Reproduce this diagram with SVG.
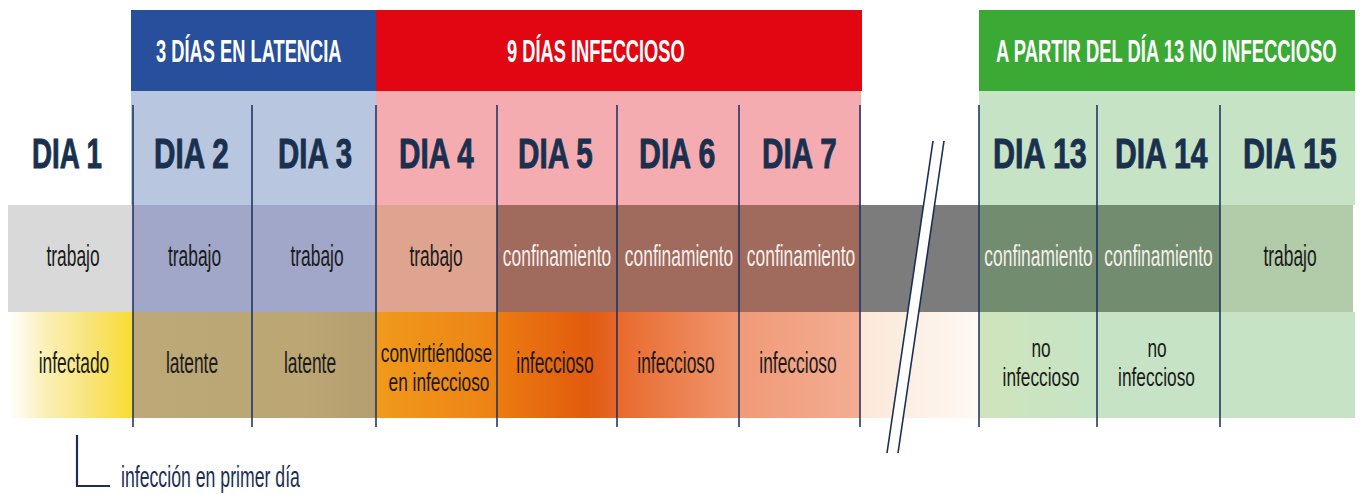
<svg xmlns="http://www.w3.org/2000/svg" width="1360" height="494" viewBox="0 0 1360 494">
  <defs>
    <style>
      .hdr { font-family: "Liberation Sans", Arial, sans-serif; font-weight: bold; font-size: 31px; fill: #ffffff; }
      .day { font-family: "Liberation Sans", Arial, sans-serif; font-weight: bold; font-size: 43px; fill: #19304f; stroke: #19304f; stroke-width: 0.9; }
      .lbl { font-family: "Liberation Sans", Arial, sans-serif; font-size: 29px; fill: #1a1a1a; text-anchor: middle; }
      .sm { font-size: 26px; }
      .wht { fill: #f6efec; }
      .note { font-family: "Liberation Sans", Arial, sans-serif; font-size: 29px; fill: #1b2f52; }
      .div { stroke: #1e3361; stroke-width: 2; stroke-opacity: 0.78; fill: none; }
      .brk { stroke: #1b2f55; stroke-width: 1.6; fill: none; }
    </style>
    <linearGradient id="gYellow" x1="0" y1="0" x2="1" y2="0">
      <stop offset="0" stop-color="#ffffff"/>
      <stop offset="0.3" stop-color="#fbf0b6"/>
      <stop offset="0.65" stop-color="#f9e47a"/>
      <stop offset="1" stop-color="#f8dc30"/>
    </linearGradient>
    <linearGradient id="gTan" x1="0" y1="0" x2="1" y2="0">
      <stop offset="0" stop-color="#bca977"/>
      <stop offset="0.7" stop-color="#bba674"/>
      <stop offset="1" stop-color="#b59e6f"/>
    </linearGradient>
    <linearGradient id="gD4" x1="0" y1="0" x2="1" y2="0">
      <stop offset="0" stop-color="#f09a1b"/>
      <stop offset="1" stop-color="#ec8214"/>
    </linearGradient>
    <linearGradient id="gD5" x1="0" y1="0" x2="1" y2="0">
      <stop offset="0" stop-color="#ec7c10"/>
      <stop offset="0.75" stop-color="#e25b0e"/>
      <stop offset="1" stop-color="#e5652a"/>
    </linearGradient>
    <linearGradient id="gD6" x1="0" y1="0" x2="1" y2="0">
      <stop offset="0" stop-color="#e96a2c"/>
      <stop offset="1" stop-color="#f09670"/>
    </linearGradient>
    <linearGradient id="gD7" x1="0" y1="0" x2="1" y2="0">
      <stop offset="0" stop-color="#f09a78"/>
      <stop offset="1" stop-color="#f3ad92"/>
    </linearGradient>
    <linearGradient id="gGap" x1="0" y1="0" x2="1" y2="0">
      <stop offset="0" stop-color="#fce7d7"/>
      <stop offset="1" stop-color="#fef9f5"/>
    </linearGradient>
    <linearGradient id="gD13" x1="0" y1="0" x2="1" y2="0">
      <stop offset="0" stop-color="#cfe4bb"/>
      <stop offset="1" stop-color="#c6e4c5"/>
    </linearGradient>
  </defs>

  <rect width="1360" height="494" fill="#ffffff"/>

  <!-- Header bars -->
  <g id="hdr-latencia">
    <rect x="131" y="10" width="245" height="81" fill="#274f9c"/>
    <rect x="131" y="91" width="245" height="114" fill="#b8c6e0"/>
    <text class="hdr" transform="translate(156,62) scale(0.59,1)">3 DÍAS EN LATENCIA</text>
  </g>
  <g id="hdr-infeccioso">
    <rect x="376" y="10" width="486" height="81" fill="#e20613"/>
    <rect x="376" y="91" width="485" height="114" fill="#f4acb1"/>
    <text class="hdr" transform="translate(507,62) scale(0.59,1)">9 DÍAS INFECCIOSO</text>
  </g>
  <g id="hdr-no-infeccioso">
    <rect x="979" y="10" width="376" height="81" fill="#3aaa35"/>
    <rect x="979" y="91" width="376" height="114" fill="#c6e4c5"/>
    <text class="hdr" transform="translate(996,62) scale(0.594,1)">A PARTIR DEL DÍA 13 NO INFECCIOSO</text>
  </g>

  <!-- Day columns -->
  <g id="dia1">
    <rect x="8" y="205" width="125" height="107" fill="#d9d9d9"/>
    <rect x="8" y="312" width="125" height="106" fill="url(#gYellow)"/>
    <text class="day" transform="translate(32,168) scale(0.646,1)">DIA 1</text>
    <text class="lbl" transform="translate(73,266) scale(0.6,1)">trabajo</text>
    <text class="lbl" transform="translate(74,373) scale(0.6,1)">infectado</text>
  </g>
  <g id="dia2">
    <rect x="133" y="205" width="119" height="107" fill="#a0a7c9"/>
    <rect x="133" y="312" width="243" height="106" fill="url(#gTan)"/>
    <text class="day" transform="translate(154,168) scale(0.69,1)">DIA 2</text>
    <text class="lbl" transform="translate(194.5,266) scale(0.6,1)">trabajo</text>
    <text class="lbl" transform="translate(192,373) scale(0.6,1)">latente</text>
  </g>
  <g id="dia3">
    <rect x="252" y="205" width="124" height="107" fill="#a0a7c9"/>
    <text class="day" transform="translate(278,168) scale(0.685,1)">DIA 3</text>
    <text class="lbl" transform="translate(317,266) scale(0.6,1)">trabajo</text>
    <text class="lbl" transform="translate(310,373) scale(0.6,1)">latente</text>
  </g>
  <g id="dia4">
    <rect x="376" y="205" width="121" height="107" fill="#dfa48f"/>
    <rect x="376" y="312" width="121" height="106" fill="url(#gD4)"/>
    <text class="day" transform="translate(399,168) scale(0.69,1)">DIA 4</text>
    <text class="lbl" transform="translate(436,266) scale(0.6,1)">trabajo</text>
    <text class="lbl sm" transform="translate(436.5,362) scale(0.665,1)">convirtiéndose</text>
    <text class="lbl sm" transform="translate(439,391) scale(0.665,1)">en infeccioso</text>
  </g>
  <g id="dia5">
    <rect x="497" y="205" width="120" height="107" fill="#a06a5c"/>
    <rect x="497" y="312" width="120" height="106" fill="url(#gD5)"/>
    <text class="day" transform="translate(518,168) scale(0.69,1)">DIA 5</text>
    <text class="lbl wht" transform="translate(557,266) scale(0.6,1)">confinamiento</text>
    <text class="lbl" transform="translate(555,373) scale(0.6,1)">infeccioso</text>
  </g>
  <g id="dia6">
    <rect x="617" y="205" width="122" height="107" fill="#a06a5c"/>
    <rect x="617" y="312" width="122" height="106" fill="url(#gD6)"/>
    <text class="day" transform="translate(639,168) scale(0.705,1)">DIA 6</text>
    <text class="lbl wht" transform="translate(679,266) scale(0.6,1)">confinamiento</text>
    <text class="lbl" transform="translate(676,373) scale(0.6,1)">infeccioso</text>
  </g>
  <g id="dia7">
    <rect x="739" y="205" width="121" height="107" fill="#a06a5c"/>
    <rect x="739" y="312" width="121" height="106" fill="url(#gD7)"/>
    <text class="day" transform="translate(762,168) scale(0.69,1)">DIA 7</text>
    <text class="lbl wht" transform="translate(801,266) scale(0.6,1)">confinamiento</text>
    <text class="lbl" transform="translate(798,373) scale(0.6,1)">infeccioso</text>
  </g>
  <g id="gap">
    <rect x="860" y="205" width="119" height="107" fill="#7b7c7b"/>
    <rect x="860" y="312" width="119" height="106" fill="url(#gGap)"/>
  </g>
  <g id="dia13">
    <rect x="979" y="205" width="118" height="107" fill="#718c6e"/>
    <rect x="979" y="312" width="118" height="106" fill="url(#gD13)"/>
    <text class="day" transform="translate(993,168) scale(0.71,1)">DIA 13</text>
    <text class="lbl wht" transform="translate(1038.5,266) scale(0.6,1)">confinamiento</text>
    <text class="lbl sm" transform="translate(1041,357) scale(0.665,1)">no</text>
    <text class="lbl sm" transform="translate(1041,386) scale(0.665,1)">infeccioso</text>
  </g>
  <g id="dia14">
    <rect x="1097" y="205" width="123" height="107" fill="#718c6e"/>
    <rect x="1097" y="312" width="123" height="106" fill="#c6e4c5"/>
    <text class="day" transform="translate(1115,168) scale(0.70,1)">DIA 14</text>
    <text class="lbl wht" transform="translate(1158.5,266) scale(0.6,1)">confinamiento</text>
    <text class="lbl sm" transform="translate(1157,357) scale(0.665,1)">no</text>
    <text class="lbl sm" transform="translate(1156.5,386) scale(0.665,1)">infeccioso</text>
  </g>
  <g id="dia15">
    <rect x="1220" y="205" width="133" height="107" fill="#b2cba9"/>
    <rect x="1220" y="312" width="135" height="106" fill="#c6e4c5"/>
    <text class="day" transform="translate(1243,168) scale(0.71,1)">DIA 15</text>
    <text class="lbl" transform="translate(1290,266) scale(0.6,1)">trabajo</text>
  </g>

  <!-- Dividers -->
  <g id="dividers">
    <line class="div" x1="133" y1="105" x2="133" y2="427"/>
    <line class="div" x1="252" y1="105" x2="252" y2="427"/>
    <line class="div" x1="376" y1="105" x2="376" y2="427"/>
    <line class="div" x1="497" y1="105" x2="497" y2="427"/>
    <line class="div" x1="617" y1="105" x2="617" y2="427"/>
    <line class="div" x1="739" y1="105" x2="739" y2="427"/>
    <line class="div" x1="860" y1="105" x2="860" y2="427"/>
    <line class="div" x1="979" y1="105" x2="979" y2="427"/>
    <line class="div" x1="1097" y1="105" x2="1097" y2="427"/>
    <line class="div" x1="1220" y1="105" x2="1220" y2="427"/>
  </g>

  <!-- Break mark -->
  <g id="break">
    <polygon points="933,141 944,141 898,453 887,453" fill="#ffffff"/>
    <line class="brk" x1="933" y1="141" x2="887" y2="453"/>
    <line class="brk" x1="944" y1="141" x2="898" y2="453"/>
  </g>

  <!-- Connectors -->
  <g id="connectors">
    <polyline points="77,435 77,486 110,486" fill="none" stroke="#1b2f52" stroke-width="2.2"/>
  </g>

  <g id="note">
    <text class="note" transform="translate(121,487) scale(0.61,1)">infección en primer día</text>
  </g>
</svg>
